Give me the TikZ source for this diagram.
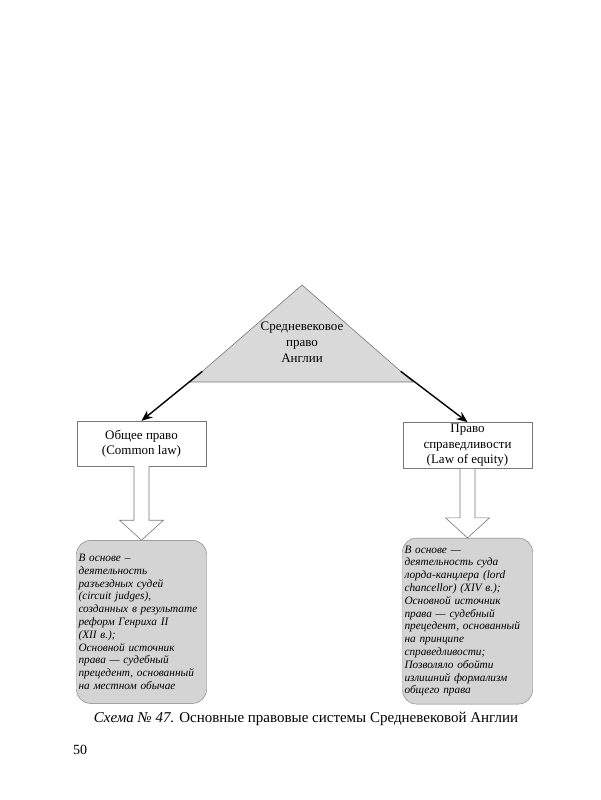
\documentclass[tikz,border=0pt]{standalone}
\usepackage{fontspec}
\setmainfont{Liberation Serif}
\usetikzlibrary{positioning,calc,arrows.meta}

\definecolor{shadegray}{RGB}{217,217,217}
\definecolor{notegray}{RGB}{212,212,212}
\definecolor{edgegray}{RGB}{120,120,120}

\tikzset{
  lawbox/.style={draw=edgegray, fill=white, minimum width=129pt, minimum height=45pt,
    align=center, inner sep=2pt, font=\fontsize{13}{15.5}\selectfont},
  notebox/.style={draw=edgegray, fill=notegray, rounded corners=14pt, minimum width=130pt,
    text width=126pt, align=left, inner xsep=2pt, inner ysep=4pt,
    font=\fontsize{11.3}{12.8}\selectfont\itshape},
  hollow/.style={draw=edgegray, fill=white, line width=0.6pt},
  branch/.style={-{Stealth[length=11pt,width=9pt]}, line width=1.4pt},
}

\newcommand\hollowarrow[2]{%
  \draw[hollow] ($(#1.south)+(-7.5,0)$) -- ($(#2.north)+(-7.5,-20)$)
    -- ($(#2.north)+(-22,-20)$) -- (#2.north) -- ($(#2.north)+(22,-20)$)
    -- ($(#2.north)+(7.5,-20)$) -- ($(#1.south)+(7.5,0)$);}

\begin{document}
\begin{tikzpicture}[x=1pt, y=-1pt]
  \path[use as bounding box] (0,0) rectangle (600,800);

  % top of the scheme
  \coordinate (apex) at (302,285);
  \coordinate (baseL) at (190,382);
  \coordinate (baseR) at (413,382);
  \draw[edgegray, fill=shadegray, line width=0.6pt] (apex) -- (baseL) -- (baseR) -- cycle;
  \node[align=center, font=\fontsize{13}{16}\selectfont] (root) at (302,342)
    {Средневековое\\право\\Англии};
  \coordinate (startL) at ($(baseL)!0.11!(apex)$);
  \coordinate (startR) at ($(baseR)!0.11!(apex)$);

  % the two systems
  \node[lawbox] (common) at (141.5,443.5) {Общее право\\(Common law)};
  \node[lawbox] (equity) at (467.5,445.5) {Право\\справедливости\\(Law of equity)};

  \draw[branch] (startL) -- (common.north);
  \draw[branch] (startR) -- (equity.north);

  \node[notebox, minimum height=163pt, below=74pt of common] (commonnote)
    {В основе --\\деятельность\\разъездных судей\\(circuit judges),\\созданных в результате\\реформ Генриха II\\(XII в.);\\Основной источник\\права — судебный\\прецедент, основанный\\на местном обычае};
  \node[notebox, minimum height=166pt, below=69pt of equity] (equitynote)
    {В основе —\\деятельность суда\\лорда-канцлера (lord\\chancellor) (XIV в.);\\Основной источник\\права — судебный\\прецедент, основанный\\на принципе\\справедливости;\\Позволяло обойти\\излишний формализм\\общего права};

  \hollowarrow{common}{commonnote}
  \hollowarrow{equity}{equitynote}

  % caption and page number
  \node[font=\fontsize{15}{18}\selectfont] (caption) at (306,719)
    {\textit{Схема № 47.} Основные правовые системы Средневековой Англии};
  \node[font=\fontsize{14}{16}\selectfont] (page) at (80,750) {50};
\end{tikzpicture}
\end{document}
